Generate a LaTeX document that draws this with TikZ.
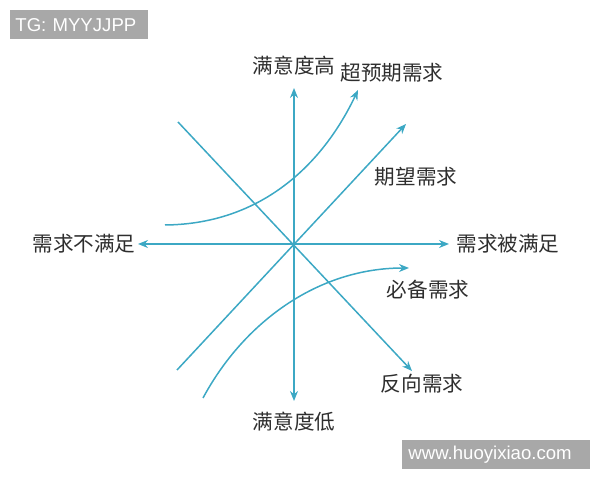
\documentclass[tikz,border=0pt]{standalone}
\usepackage{fontspec}
\setmainfont{Liberation Sans}
\newfontfamily\cjk{Noto Sans CJK SC}
\usetikzlibrary{arrows.meta}
\definecolor{axisblue}{RGB}{60,168,196}
\definecolor{taggray}{RGB}{168,168,168}

\begin{document}
\begin{tikzpicture}
[x=0.5pt,y=-0.5pt
,ln/.style={draw=axisblue,line width=0.75pt}
,ax/.style={ln,arrows={-Stealth[length=5pt,width=4pt]}}
,lbl/.style={font=\cjk\fontsize{10.3}{12}\selectfont,text=black!82,inner sep=0pt}
,tag/.style={fill=taggray,text=white,font=\fontsize{9.3}{11}\selectfont,anchor=north west,minimum height=14.5pt,inner ysep=0pt,align=left}]
\useasboundingbox (0,0) rectangle (600,480);
% axes
\coordinate (o) at (294,244);
\coordinate (top) at (294,88);
\coordinate (bot) at (294,401);
\coordinate (lft) at (138,244);
\coordinate (rgt) at (449,244);
\draw[ax] (o) -- (top);
\draw[ax] (o) -- (bot);
\draw[ax] (o) -- (lft);
\draw[ax] (o) -- (rgt);
% straight lines
\coordinate (e0) at (177,370);
\coordinate (e1) at (406,124);
\coordinate (r0) at (178,122);
\coordinate (r1) at (412,371);
\draw[ax] (e0) -- (e1);
\draw[ax] (r0) -- (r1);
% curves
\coordinate (s0) at (165,225);
\coordinate (s1) at (358,90);
\coordinate (m0) at (203,398);
\coordinate (m1) at (409,268);
\draw[ax] (s0) .. controls (265,224) and (325,160) .. (s1);
\draw[ax] (m0) .. controls (245,320) and (320,268) .. (m1);
% labels
\node[lbl] (hi) at (294,66) {满意度高};
\node[lbl] (lo) at (294,422) {满意度低};
\node[lbl] (no) at (84,244) {需求不满足};
\node[lbl] (yes) at (508,244) {需求被满足};
\node[lbl] (exc) at (392,73) {超预期需求};
\node[lbl] (exp) at (416,177) {期望需求};
\node[lbl] (must) at (428,290) {必备需求};
\node[lbl] (rev) at (422,384) {反向需求};
% tags
\node[tag,minimum width=69pt,text width=64pt,inner xsep=2.5pt] (tg) at (10,10) {TG: MYYJJPP};
\node[tag,minimum width=94pt,text width=88pt,inner xsep=3pt] (web) at (402,440) {www.huoyixiao.com};
\end{tikzpicture}
\end{document}
